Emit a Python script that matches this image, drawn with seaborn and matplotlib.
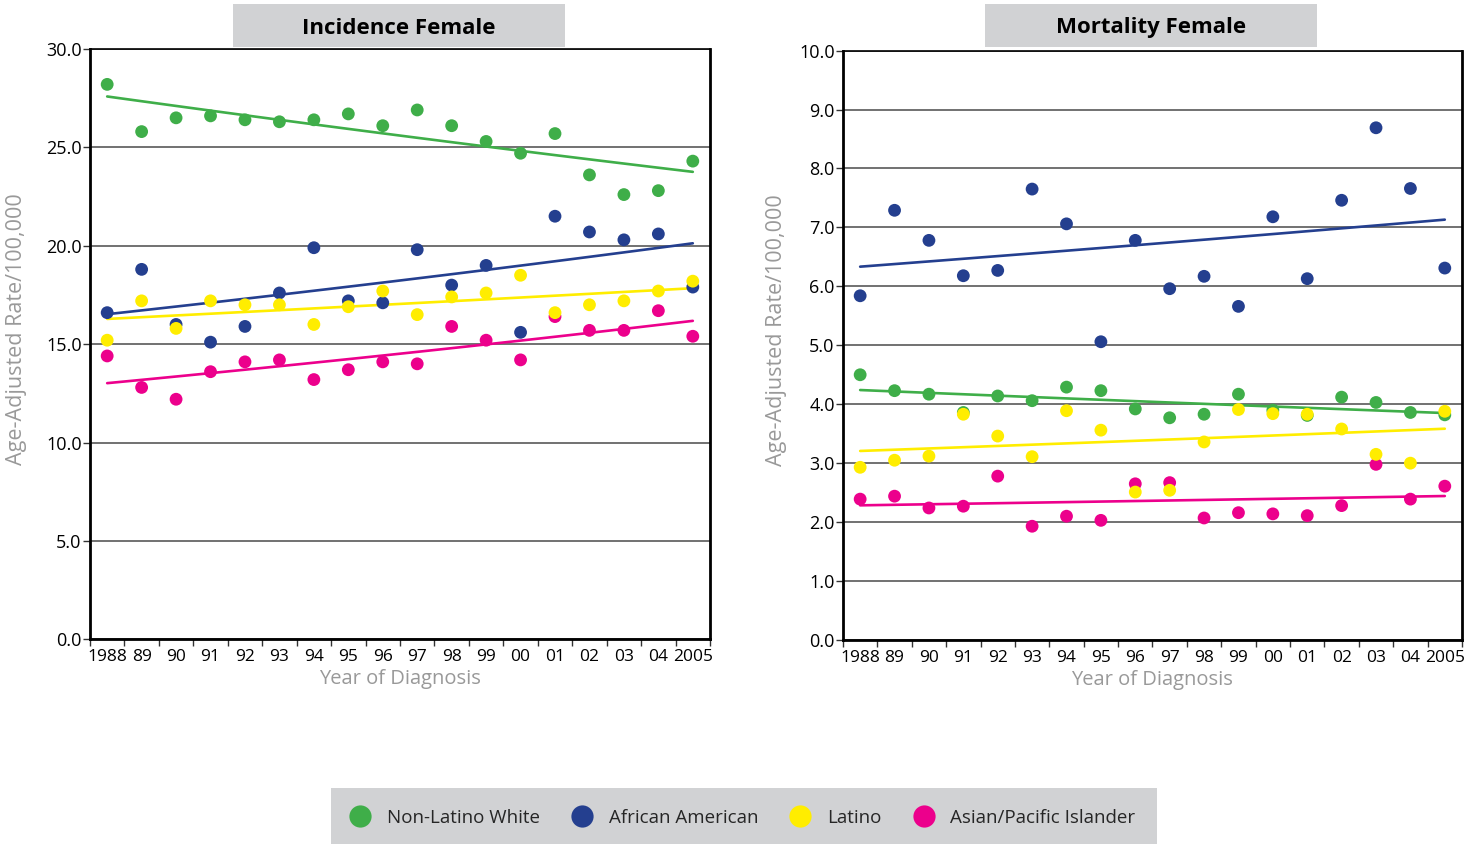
import matplotlib
matplotlib.use('Agg')
import matplotlib.pyplot as plt
from matplotlib.lines import Line2D
from matplotlib.patches import Rectangle
import numpy as np
import pandas as pd
import seaborn as sns

years = list(range(1988, 2006))
year_labels = ['1988', '89', '90', '91', '92', '93', '94', '95', '96', '97',
               '98', '99', '00', '01', '02', '03', '04', '2005']
groups = ['Non-Latino White', 'African American', 'Latino', 'Asian/Pacific Islander']
colors = ['#3FAE49', '#243F8F', '#FFED00', '#EC008C']

# incidence, female
inc_white = [28.2, 25.8, 26.5, 26.6, 26.4, 26.3, 26.4, 26.7, 26.1, 26.9,
             26.1, 25.3, 24.7, 25.7, 23.6, 22.6, 22.8, 24.3]
inc_black = [16.6, 18.8, 16.0, 15.1, 15.9, 17.6, 19.9, 17.2, 17.1, 19.8,
             18.0, 19.0, 15.6, 21.5, 20.7, 20.3, 20.6, 17.9]
inc_latino = [15.2, 17.2, 15.8, 17.2, 17.0, 17.0, 16.0, 16.9, 17.7, 16.5,
              17.4, 17.6, 18.5, 16.6, 17.0, 17.2, 17.7, 18.2]
inc_asian = [14.4, 12.8, 12.2, 13.6, 14.1, 14.2, 13.2, 13.7, 14.1, 14.0,
             15.9, 15.2, 14.2, 16.4, 15.7, 15.7, 16.7, 15.4]

# mortality, female
mort_white = [4.50, 4.23, 4.17, 3.86, 4.14, 4.06, 4.29, 4.23, 3.92, 3.77,
              3.83, 4.17, 3.90, 3.81, 4.12, 4.03, 3.86, 3.82]
mort_black = [5.84, 7.29, 6.78, 6.18, 6.27, 7.65, 7.06, 5.06, 6.78, 5.96,
              6.17, 5.66, 7.18, 6.13, 7.46, 8.69, 7.66, 6.31]
mort_latino = [2.93, 3.05, 3.12, 3.83, 3.46, 3.11, 3.89, 3.56, 2.51, 2.54,
               3.36, 3.91, 3.84, 3.83, 3.58, 3.15, 3.00, 3.88]
mort_asian = [2.39, 2.44, 2.24, 2.27, 2.78, 1.93, 2.10, 2.03, 2.65, 2.67,
              2.07, 2.16, 2.14, 2.11, 2.28, 2.98, 2.39, 2.61]

panels = [
    ('Incidence Female', [inc_white, inc_black, inc_latino, inc_asian], 30, 5),
    ('Mortality Female', [mort_white, mort_black, mort_latino, mort_asian], 10, 1),
]

# draw order: yellow last so it sits on top, as in the source
draw_order = [0, 1, 3, 2]

sns.set_theme(style='white')
plt.rcParams['font.family'] = ['Open Sans', 'DejaVu Sans']

fig = plt.figure(figsize=(14.82, 8.44), dpi=100)
ax_pos = [[0.0607, 0.2425, 0.4184, 0.6995], [0.5688, 0.2417, 0.4177, 0.6984]]
ylab_x = [-0.1016, -0.0905]
box_x = [233 / 1482, 985 / 1482]
palette = dict(zip(groups, colors))

for k, (title, series, ymax, ystep) in enumerate(panels):
    ax = fig.add_axes(ax_pos[k])

    rows = []
    fit_rows = []
    xs = np.arange(len(years))
    xf = np.linspace(0, len(years) - 1, 60)
    for i in draw_order:
        for x, v in zip(xs, series[i]):
            rows.append({'x': x, 'rate': v, 'group': groups[i]})
        # log-linear trend (annual percent change style)
        b, a = np.polyfit(xs, np.log(series[i]), 1, w=np.sqrt(series[i]))
        for x in xf:
            fit_rows.append({'x': x, 'rate': np.exp(a + b * x), 'group': groups[i]})
    pts = pd.DataFrame(rows)
    fit = pd.DataFrame(fit_rows)

    sns.lineplot(data=fit, x='x', y='rate', hue='group', palette=palette,
                 linewidth=1.9, legend=False, ax=ax, zorder=2)
    sns.scatterplot(data=pts, x='x', y='rate', hue='group', palette=palette,
                    s=85, linewidth=0, legend=False, ax=ax, zorder=3)

    ax.set_xlim(-0.5, len(years) - 0.5)
    ax.set_ylim(0, ymax)
    ax.set_xticks(xs)
    ax.set_xticklabels(year_labels)
    ax.set_xticks(np.arange(-0.5, len(years), 1), minor=True)
    ax.tick_params(axis='x', which='major', length=0, pad=7, labelsize=12.5, colors='black')
    ax.tick_params(axis='x', which='minor', length=5, width=1, direction='out',
                   color='#333333', bottom=True)
    yt = np.arange(0, ymax + ystep / 2, ystep)
    ax.set_yticks(yt)
    ax.set_yticklabels([f'{v:.1f}' for v in yt])
    ax.tick_params(axis='y', length=5, width=1, direction='out', color='#333333',
                   left=True, pad=1, labelsize=13, colors='black')
    ax.yaxis.grid(True, color='#4a4a4a', linewidth=1.1)
    ax.xaxis.grid(False)
    ax.set_axisbelow(True)
    for side, lw in [('left', 2), ('bottom', 2), ('right', 2), ('top', 1.2)]:
        ax.spines[side].set_color('black')
        ax.spines[side].set_linewidth(lw)

    ax.set_xlabel('Year of Diagnosis', fontsize=14.5, color='#999999', labelpad=3)
    ax.set_ylabel('Age-Adjusted Rate/100,000', fontsize=15.5, color='#999999')
    ax.yaxis.set_label_coords(ylab_x[k], 0.525)

    fig.patches.append(Rectangle((box_x[k], 1 - 47 / 844), 332 / 1482, 43 / 844,
                                 transform=fig.transFigure, facecolor='#D1D2D4',
                                 edgecolor='none', zorder=0))
    fig.text(box_x[k] + 166 / 1482, 1 - 28 / 844, title, ha='center', va='center',
             fontsize=16, fontweight='bold', color='black')

# legend box
fig.patches.append(Rectangle((331 / 1482, 0), 826 / 1482, 56 / 844,
                             transform=fig.transFigure, facecolor='#D1D2D4',
                             edgecolor='none', zorder=0))
handles = [Line2D([], [], linestyle='none', marker='o', markersize=16,
                  markerfacecolor=c, markeredgewidth=0) for c in colors]
fig.legend(handles, groups, loc='center', bbox_to_anchor=(743 / 1482, 1 - 818 / 844),
           ncol=4, frameon=False, fontsize=13.5, handlelength=1.0, handletextpad=0.93,
           columnspacing=1.75)

fig.savefig('out.png', dpi=100)
